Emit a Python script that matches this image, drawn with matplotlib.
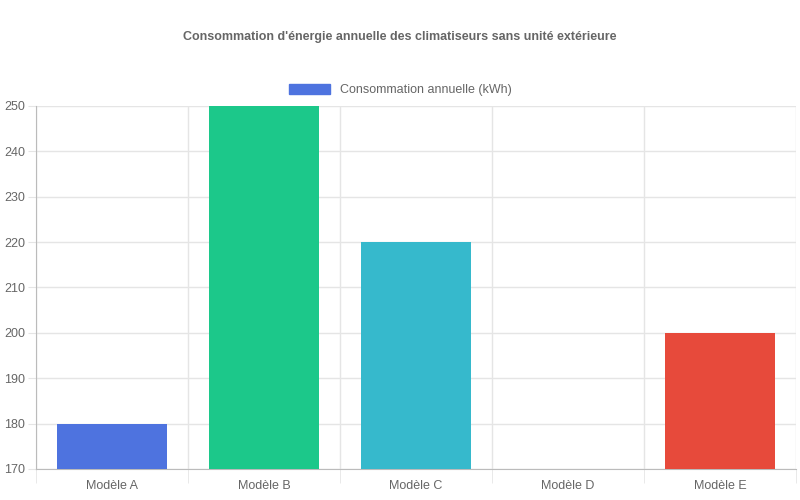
import matplotlib
matplotlib.use("Agg")
import matplotlib.pyplot as plt
from matplotlib.patches import Patch

categories = ["Modèle A", "Modèle B", "Modèle C", "Modèle D", "Modèle E"]
values = [180, 250, 220, 170, 200]
colors = ["#4e73df", "#1cc88a", "#36b9cc", "#f6c23e", "#e74a3b"]
series_name = "Consommation annuelle (kWh)"
title = "Consommation d'énergie annuelle des climatiseurs sans unité extérieure"

plt.rcParams['font.family'] = ['Liberation Sans', 'DejaVu Sans']
fig = plt.figure(figsize=(8, 5), dpi=100)
ax = fig.add_axes([36/800, 1-469/500, 760/800, 363/500])
x = list(range(len(categories)))
ax.bar(x, [v - 170 for v in values], bottom=170, width=0.72, color=colors, zorder=3)
ax.set_xlim(-0.5, len(categories) - 0.5)
ax.set_ylim(170, 250)
ax.set_yticks(range(170, 251, 10))
ax.set_xticks(x)
ax.set_xticklabels(categories)
ax.set_xticks([i + 0.5 for i in range(-1, len(categories))], minor=True)
ax.grid(True, which='minor', axis='x', color='#e5e5e5', lw=1, zorder=0)
ax.grid(True, which='major', axis='y', color='#e5e5e5', lw=1, zorder=0)
ax.tick_params(axis='x', which='major', length=0, labelsize=9, colors='#666666', pad=8)
ax.tick_params(axis='x', which='minor', length=10, color='#e5e5e5')
ax.tick_params(axis='y', length=6, color='#e5e5e5', labelsize=9, labelcolor='#666666', pad=2)
for s in ['top', 'right']:
    ax.spines[s].set_visible(False)
for s in ['left', 'bottom']:
    ax.spines[s].set_color('#bbbbbb')
fig.text(0.5, 1-37/500, title, ha='center', va='center', fontsize=9, fontweight='bold', color='#666666')
fig.legend(handles=[Patch(color=colors[0], label=series_name)], loc='center',
           bbox_to_anchor=(0.5, 1-90/500), frameon=False, fontsize=9,
           handlelength=3.3, handleheight=0.9, labelcolor='#666666')
fig.savefig("out.png", dpi=100)
